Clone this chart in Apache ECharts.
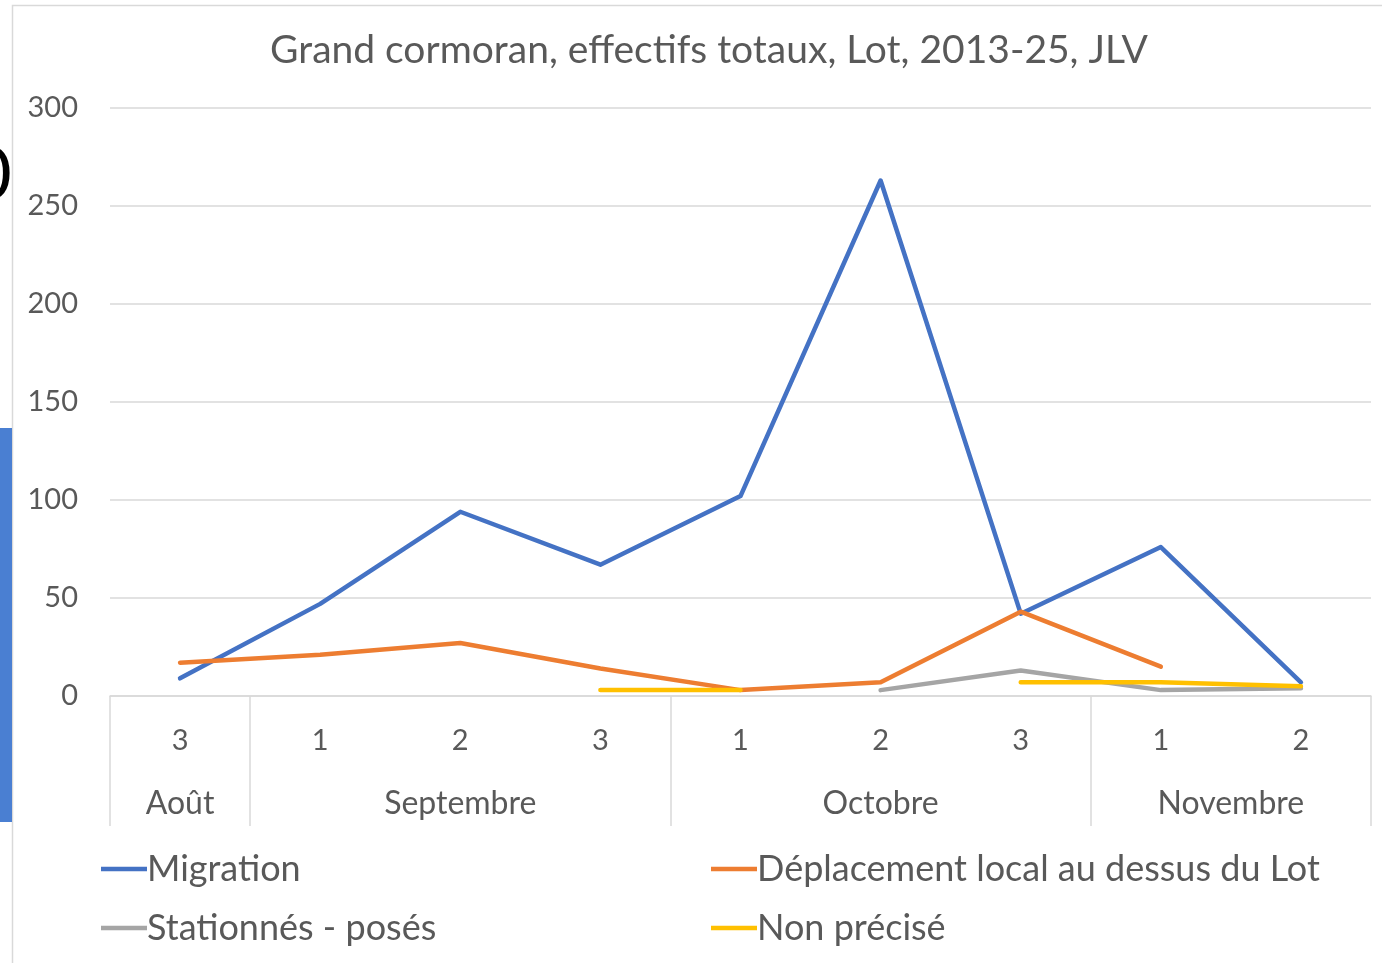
<!DOCTYPE html>
<html>
<head>
<meta charset="utf-8">
<script src="https://cdn.jsdelivr.net/npm/echarts@6/dist/echarts.min.js"></script>
<style>
  html, body { margin: 0; padding: 0; background: #fff; }
  #chart { width: 1382px; height: 963px; }
</style>
</head>
<body>
<div id="chart"></div>
<script>
  // decades (1,2,3) per month
  var decades = ['3', '1', '2', '3', '1', '2', '3', '1', '2']
  var months = ['Août', 'Septembre', 'Octobre', 'Novembre']
  var monthCenters = [0, 2, 5, 7.5]
  var monthBounds = [-0.5, 0.5, 3.5, 6.5, 8.5]

  var migration = [9, 47, 94, 67, 102, 263, 42, 76, 7]
  var deplacement = [17, 21, 27, 14, 3, 7, 43, 15, null]
  var stationnes = [null, null, null, null, null, 3, 13, 3, 4]
  var nonPrecise = [null, null, null, 3, 3, null, 7, 7, 5]

  var txt = '#595959'
  var grid = '#d9d9d9'
  var font = 'Lato, "Noto Sans", sans-serif'

  function lineSeries(name, data, color) {
    return {
      name: name,
      type: 'line',
      data: data,
      xAxisIndex: 0,
      showSymbol: false,
      symbol: 'none',
      connectNulls: false,
      lineStyle: { color: color, width: 4.5, cap: 'round', join: 'round' },
      itemStyle: { color: color }
    }
  }

  var myChart = echarts.init(document.getElementById('chart'))
  var option = {
    animation: false,
    textStyle: { fontFamily: font },
    title: {
      text: 'Grand cormoran, effectifs totaux, Lot, 2013-25, JLV',
      left: 704,
      top: 26,
      textAlign: 'center',
      textStyle: { color: txt, fontSize: 39, fontWeight: 'normal', fontFamily: font }
    },
    graphic: [
      { type: 'rect', shape: { x: 12.5, y: 5.5, width: 1400, height: 1000 },
        style: { fill: 'none', stroke: grid, lineWidth: 1.5 }, silent: true },
      { type: 'rect', shape: { x: 0, y: 428, width: 12, height: 394 },
        style: { fill: '#4a7fd2' }, silent: true },
      { type: 'text', left: -30, top: 140,
        style: { text: '0', fill: '#000', font: '72px ' + font }, silent: true },
      { type: 'text', left: -6, top: 345,
        style: { text: ':', fill: '#000', font: '32px ' + font }, silent: true }
    ],
    legend: [{
      left: 96,
      top: 843,
      orient: 'vertical',
      itemGap: 17,
      itemWidth: 46,
      itemHeight: 4.5,
      icon: 'rect',
      data: ['Migration', 'Stationnés - posés'],
      textStyle: { color: txt, fontSize: 36, fontFamily: font, padding: [0, 0, 0, -5], lineHeight: 42 }
    }, {
      left: 706,
      top: 843,
      orient: 'vertical',
      itemGap: 17,
      itemWidth: 46,
      itemHeight: 4.5,
      icon: 'rect',
      data: ['Déplacement local au dessus du Lot', 'Non précisé'],
      textStyle: { color: txt, fontSize: 36, fontFamily: font, padding: [0, 0, 0, -5], lineHeight: 42 }
    }],
    grid: { left: 110, right: 11, top: 108, bottom: 267 },
    xAxis: [{
      type: 'category',
      data: decades,
      boundaryGap: true,
      axisLine: { lineStyle: { color: grid, width: 1.5 } },
      axisTick: { show: false },
      axisLabel: { color: txt, fontSize: 29, margin: 30, fontFamily: font },
      splitLine: { show: false }
    }, {
      type: 'value',
      min: -0.5,
      max: 8.5,
      position: 'bottom',
      axisLine: { show: false },
      axisTick: { show: true, customValues: monthBounds, length: 130, lineStyle: { color: grid, width: 1.5 } },
      axisLabel: {
        color: txt, fontSize: 32, margin: 92, fontFamily: font,
        customValues: monthCenters,
        formatter: function (v) {
          return months[monthCenters.indexOf(v)]
        }
      },
      splitLine: { show: false }
    }],
    yAxis: {
      type: 'value',
      min: 0,
      max: 300,
      interval: 50,
      axisLine: { show: false },
      axisTick: { show: false },
      axisLabel: { color: txt, fontSize: 29, margin: 32, fontFamily: font },
      splitLine: { lineStyle: { color: grid, width: 1.5 } }
    },
    series: [
      lineSeries('Migration', migration, '#4472C4'),
      lineSeries('Déplacement local au dessus du Lot', deplacement, '#ED7D31'),
      lineSeries('Stationnés - posés', stationnes, '#A5A5A5'),
      lineSeries('Non précisé', nonPrecise, '#FFC000')
    ]
  }
  myChart.setOption(option)
</script>
</body>
</html>
